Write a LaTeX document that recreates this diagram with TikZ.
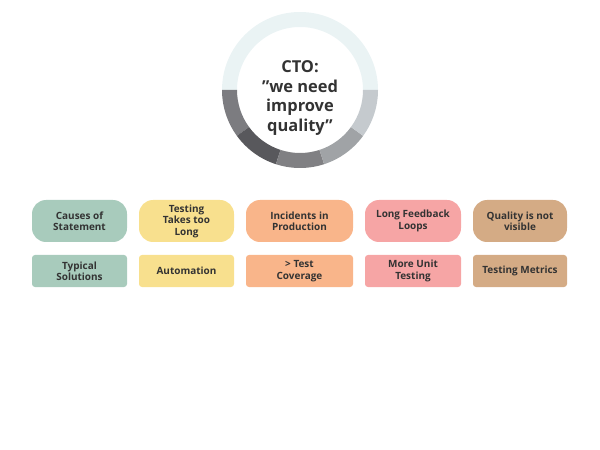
\documentclass[tikz,border=0pt]{standalone}
\usepackage{fontspec}
\setmainfont{Open Sans}
\usetikzlibrary{positioning}
\definecolor{ringtop}{HTML}{EAF3F4}
\definecolor{segA}{HTML}{7C7C80}
\definecolor{segB}{HTML}{58585C}
\definecolor{segC}{HTML}{808083}
\definecolor{segD}{HTML}{A0A3A6}
\definecolor{segE}{HTML}{C5CACE}
\definecolor{txt}{HTML}{333333}
\definecolor{cgreen}{HTML}{A8CBBC}
\definecolor{cyellow}{HTML}{F8E08E}
\definecolor{corange}{HTML}{F9B58A}
\definecolor{cpink}{HTML}{F6A5A5}
\definecolor{ctan}{HTML}{D4AB85}
\tikzset{
    cause/.style={rounded corners=14bp, minimum height=42bp, align=center,
        text=txt, font=\bfseries\fontsize{10}{11.5}\selectfont, inner sep=2bp},
    solution/.style={rounded corners=3bp, minimum height=32bp, align=center,
        text=txt, font=\bfseries\fontsize{10}{11.5}\selectfont, inner sep=2bp}
}
\begin{document}
\begin{tikzpicture}[x=1bp,y=-1bp]
    \useasboundingbox (0,0) rectangle (600,450);
    % ring
    \fill[ringtop] ([shift={(0:78)}]300,90) arc[start angle=0,end angle=-180,radius=78]
        -- ([shift={(180:63)}]300,90) arc[start angle=-180,end angle=0,radius=63] -- cycle;
    \foreach \a/\c in {144/segA, 108/segB, 72/segC, 36/segD, 0/segE}
        \fill[\c] ([shift={(\a:78)}]300,90) arc[start angle=\a,end angle=\a+36,radius=78]
            -- ([shift={(\a+36:63)}]300,90) arc[start angle=\a+36,end angle=\a,radius=63] -- cycle;
    \node[text=txt, font=\bfseries\fontsize{16.5}{19.5}\selectfont, align=center] (cto) at (300,98)
        {CTO:\\\symbol{34}we need\\improve\\quality\symbol{34}};
    % causes
    \node[cause, fill=cgreen, minimum width=95bp] (c1) at (79.5,221) {Causes of\\Statement};
    \node[cause, fill=cyellow, minimum width=95bp] (c2) at (186.5,221) {Testing\\Takes too\\Long};
    \node[cause, fill=corange, minimum width=107bp] (c3) at (299.5,221) {Incidents in\\Production};
    \node[cause, fill=cpink, minimum width=96bp] (c4) at (413,221) {Long Feedback\\Loops};
    \node[cause, fill=ctan, minimum width=94bp] (c5) at (520,221) {Quality is not\\visible};
    % solutions
    \node[solution, fill=cgreen, minimum width=95bp] (s1) at (79.5,271) {Typical\\Solutions};
    \node[solution, fill=cyellow, minimum width=95bp] (s2) at (186.5,271) {Automation};
    \node[solution, fill=corange, minimum width=107bp] (s3) at (299.5,271) {> Test\\Coverage};
    \node[solution, fill=cpink, minimum width=96bp] (s4) at (413,271) {More Unit\\Testing};
    \node[solution, fill=ctan, minimum width=94bp] (s5) at (520,271) {Testing Metrics};
\end{tikzpicture}
\end{document}
